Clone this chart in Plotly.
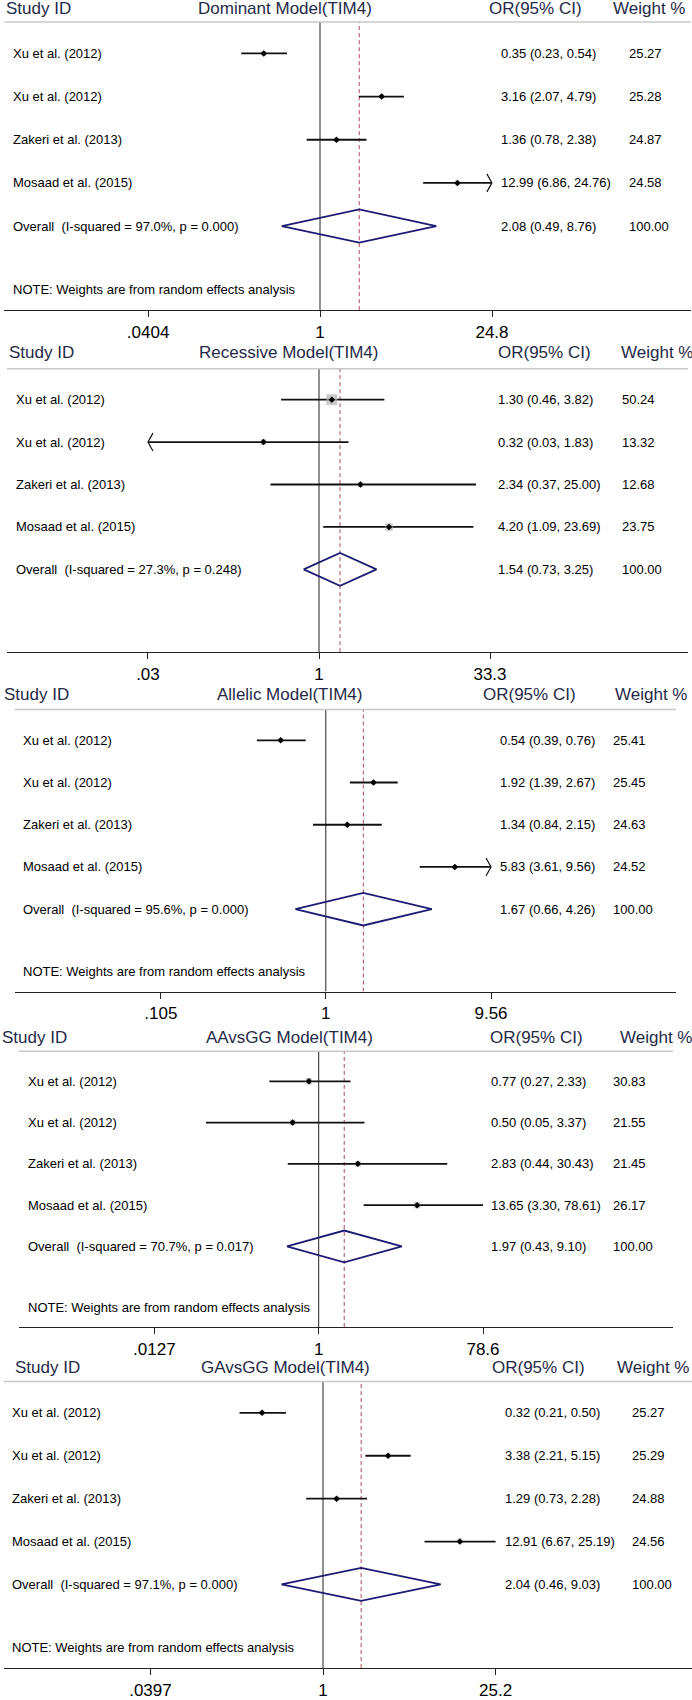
import math
import plotly.graph_objects as go

W, H = 692, 1700

# ---------------- data ----------------
studies = ["Xu et al. (2012)", "Xu et al. (2012)", "Zakeri et al. (2013)", "Mosaad et al. (2015)"]
titles = ["Dominant Model(TIM4)", "Recessive Model(TIM4)", "Allelic Model(TIM4)",
          "AAvsGG Model(TIM4)", "GAvsGG Model(TIM4)"]

dom_or = [0.35, 3.16, 1.36, 12.99]
dom_lo = [0.23, 2.07, 0.78, 6.86]
dom_hi = [0.54, 4.79, 2.38, 24.76]
dom_w = [25.27, 25.28, 24.87, 24.58]
dom_overall = [2.08, 0.49, 8.76]
dom_het = ["97.0%", "0.000"]
dom_ticks = [0.0404, 1, 24.8]
dom_ticktext = [".0404", "1", "24.8"]
dom_arrows = ["", "", "", "right"]

rec_or = [1.30, 0.32, 2.34, 4.20]
rec_lo = [0.46, 0.03, 0.37, 1.09]
rec_hi = [3.82, 1.83, 25.00, 23.69]
rec_w = [50.24, 13.32, 12.68, 23.75]
rec_overall = [1.54, 0.73, 3.25]
rec_het = ["27.3%", "0.248"]
rec_ticks = [0.03, 1, 33.3]
rec_ticktext = [".03", "1", "33.3"]
rec_arrows = ["", "left", "", ""]

all_or = [0.54, 1.92, 1.34, 5.83]
all_lo = [0.39, 1.39, 0.84, 3.61]
all_hi = [0.76, 2.67, 2.15, 9.56]
all_w = [25.41, 25.45, 24.63, 24.52]
all_overall = [1.67, 0.66, 4.26]
all_het = ["95.6%", "0.000"]
all_ticks = [0.105, 1, 9.56]
all_ticktext = [".105", "1", "9.56"]
all_arrows = ["", "", "", "right"]

aa_or = [0.77, 0.50, 2.83, 13.65]
aa_lo = [0.27, 0.05, 0.44, 3.30]
aa_hi = [2.33, 3.37, 30.43, 78.61]
aa_w = [30.83, 21.55, 21.45, 26.17]
aa_overall = [1.97, 0.43, 9.10]
aa_het = ["70.7%", "0.017"]
aa_ticks = [0.0127, 1, 78.6]
aa_ticktext = [".0127", "1", "78.6"]
aa_arrows = ["", "", "", ""]

ga_or = [0.32, 3.38, 1.29, 12.91]
ga_lo = [0.21, 2.21, 0.73, 6.67]
ga_hi = [0.50, 5.15, 2.28, 25.19]
ga_w = [25.27, 25.29, 24.88, 24.56]
ga_overall = [2.04, 0.46, 9.03]
ga_het = ["97.1%", "0.000"]
ga_ticks = [0.0397, 1, 25.2]
ga_ticktext = [".0397", "1", "25.2"]
ga_arrows = ["", "", "", ""]

note_flags = [True, False, True, True, True]
note_text = "NOTE: Weights are from random effects analysis"

panels_data = [
    (dom_or, dom_lo, dom_hi, dom_w, dom_overall, dom_het, dom_ticks, dom_ticktext, dom_arrows),
    (rec_or, rec_lo, rec_hi, rec_w, rec_overall, rec_het, rec_ticks, rec_ticktext, rec_arrows),
    (all_or, all_lo, all_hi, all_w, all_overall, all_het, all_ticks, all_ticktext, all_arrows),
    (aa_or, aa_lo, aa_hi, aa_w, aa_overall, aa_het, aa_ticks, aa_ticktext, aa_arrows),
    (ga_or, ga_lo, ga_hi, ga_w, ga_overall, ga_het, ga_ticks, ga_ticktext, ga_arrows),
]

# ---------------- layout constants (pixels) ----------------
gray_y = [22, 369.3, 710.7, 1053, 1384]
axis_y = [310.7, 653.3, 993.3, 1329.3, 1671]
axis_x0 = [4.4, 7, 14.7, 18.7, 3.6]
axis_x1 = [691, 688, 676, 673, 692]
one_x = [320, 319, 325.8, 318.7, 323]
max_x = [492, 490, 491, 483, 495.6]
head_y = [9, 353, 695.5, 1039, 1370]
head_x = [[4, 196, 487, 611], [7, 197, 496, 619], [2, 215, 481, 613],
          [0, 203.6, 487.6, 617.8], [13, 199, 490, 614.7]]
col_x = [[11, 499, 627], [14, 496, 620], [21, 498, 611], [25.8, 489, 611], [9.8, 503, 630]]
box_k = [0.9, 1.55, 0.9, 1.2, 0.9]

Y_TOP, Y_BOT = 0.73, -5.95
FONT = "Arial, Liberation Sans, sans-serif"
HEAD_COLOR = "#1f2a48"
DIAM_COLOR = "#1c1c74"
DASH_COLOR = "#b04a5a"

fig = go.Figure()
annotations = []
shapes = []

for p in range(5):
    ors, los, his, ws, ov, het, tv, tt, arrows = panels_data[p]
    xa = "x" if p == 0 else f"x{p+1}"
    ya = "y" if p == 0 else f"y{p+1}"
    s = (axis_y[p] - gray_y[p]) / (Y_TOP - Y_BOT)  # px per row
    L = math.log10(tv[-1])
    k = (max_x[p] - one_x[p]) / L  # px per log10 unit
    a = (axis_x0[p] - one_x[p]) / k
    b = (axis_x1[p] - one_x[p]) / k

    fig.add_trace(go.Scatter(x=[1, 1], y=[Y_BOT, Y_TOP], mode="lines",
                             line=dict(color="#222222", width=1), xaxis=xa, yaxis=ya,
                             hoverinfo="skip", showlegend=False))
    fig.add_trace(go.Scatter(x=[ov[0], ov[0]], y=[Y_BOT, Y_TOP], mode="lines",
                             line=dict(color=DASH_COLOR, width=1, dash="4px,3px"),
                             xaxis=xa, yaxis=ya, hoverinfo="skip", showlegend=False))

    rows_y = [-i for i in range(4)]
    for i in range(4):
        fig.add_trace(go.Scatter(x=[los[i], his[i]], y=[rows_y[i], rows_y[i]], mode="lines",
                                 line=dict(color="#111111", width=1.8), xaxis=xa, yaxis=ya,
                                 hoverinfo="skip", showlegend=False))
        dx = 5.0 / k
        dy = 9.0 / s
        if arrows[i] in ("right", "left"):
            if arrows[i] == "right":
                xe = his[i]
                xb = 10 ** (math.log10(xe) - dx)
            else:
                xe = los[i]
                xb = 10 ** (math.log10(xe) + dx)
            fig.add_trace(go.Scatter(x=[xb, xe, xb], y=[rows_y[i] + dy, rows_y[i], rows_y[i] - dy],
                                     mode="lines", line=dict(color="#111111", width=1.2),
                                     xaxis=xa, yaxis=ya, hoverinfo="skip", showlegend=False))
    fig.add_trace(go.Scatter(x=ors, y=rows_y, mode="markers",
                             marker=dict(symbol="square", color="#b4b4b4",
                                         size=[box_k[p] * math.sqrt(w) for w in ws], line=dict(width=0)),
                             xaxis=xa, yaxis=ya, hoverinfo="skip", showlegend=False))
    fig.add_trace(go.Scatter(x=ors, y=rows_y, mode="markers",
                             marker=dict(symbol="diamond", color="#000000", size=5),
                             xaxis=xa, yaxis=ya, hoverinfo="skip", showlegend=False))
    yo = -4
    h = 0.385
    fig.add_trace(go.Scatter(x=[ov[1], ov[0], ov[2], ov[0], ov[1]],
                             y=[yo, yo + h, yo, yo - h, yo], mode="lines",
                             line=dict(color=DIAM_COLOR, width=1.8), xaxis=xa, yaxis=ya,
                             hoverinfo="skip", showlegend=False))

    fig.layout[("xaxis" if p == 0 else f"xaxis{p+1}")] = dict(
        type="log", range=[a, b], domain=[axis_x0[p] / W, axis_x1[p] / W], anchor=ya,
        tickvals=tv, ticktext=tt, ticks="outside", ticklen=6, tickwidth=1, tickcolor="#222222",
        showline=True, linecolor="#222222", linewidth=1.3, showgrid=False, zeroline=False,
        tickfont=dict(family=FONT, size=17, color="#000000"), fixedrange=True)
    fig.layout[("yaxis" if p == 0 else f"yaxis{p+1}")] = dict(
        range=[Y_BOT, Y_TOP], domain=[1 - axis_y[p] / H, 1 - gray_y[p] / H], anchor=xa,
        visible=False, fixedrange=True)

    shapes.append(dict(type="line", xref=f"{xa} domain", yref=f"{ya} domain", x0=0, x1=1, y0=1, y1=1,
                       line=dict(color="#c8c8c8", width=1.5)))

    heads = ["Study ID", titles[p], "OR(95% CI)", "Weight %"]
    for j in range(4):
        annotations.append(dict(text=heads[j], xref="paper", yref="paper", x=head_x[p][j] / W,
                                y=1 - head_y[p] / H, xanchor="left", yanchor="middle", showarrow=False,
                                font=dict(family=FONT, size=17, color=HEAD_COLOR)))
    for i in range(4):
        txt = [studies[i], f"{ors[i]:.2f} ({los[i]:.2f}, {his[i]:.2f})", f"{ws[i]:.2f}"]
        for j in range(3):
            annotations.append(dict(text=txt[j], xref="paper", yref=ya, x=col_x[p][j] / W, y=rows_y[i],
                                    xanchor="left", yanchor="middle", showarrow=False,
                                    font=dict(family=FONT, size=13, color="#000000")))
    otxt = [f"Overall\u00a0\u00a0(I-squared = {het[0]}, p = {het[1]})",
            f"{ov[0]:.2f} ({ov[1]:.2f}, {ov[2]:.2f})", "100.00"]
    for j in range(3):
        annotations.append(dict(text=otxt[j], xref="paper", yref=ya, x=col_x[p][j] / W, y=yo,
                                xanchor="left", yanchor="middle", showarrow=False,
                                font=dict(family=FONT, size=13, color="#000000")))
    if note_flags[p]:
        annotations.append(dict(text=note_text, xref="paper", yref=ya, x=col_x[p][0] / W, y=-5.47,
                                xanchor="left", yanchor="middle", showarrow=False,
                                font=dict(family=FONT, size=13, color="#000000")))

fig.update_layout(width=W, height=H, margin=dict(l=0, r=0, t=0, b=0),
                  paper_bgcolor="white", plot_bgcolor="white",
                  annotations=annotations, shapes=shapes, showlegend=False)

fig.write_html("out.html", config={"displayModeBar": False},
               post_script="document.body.style.margin='0';")
